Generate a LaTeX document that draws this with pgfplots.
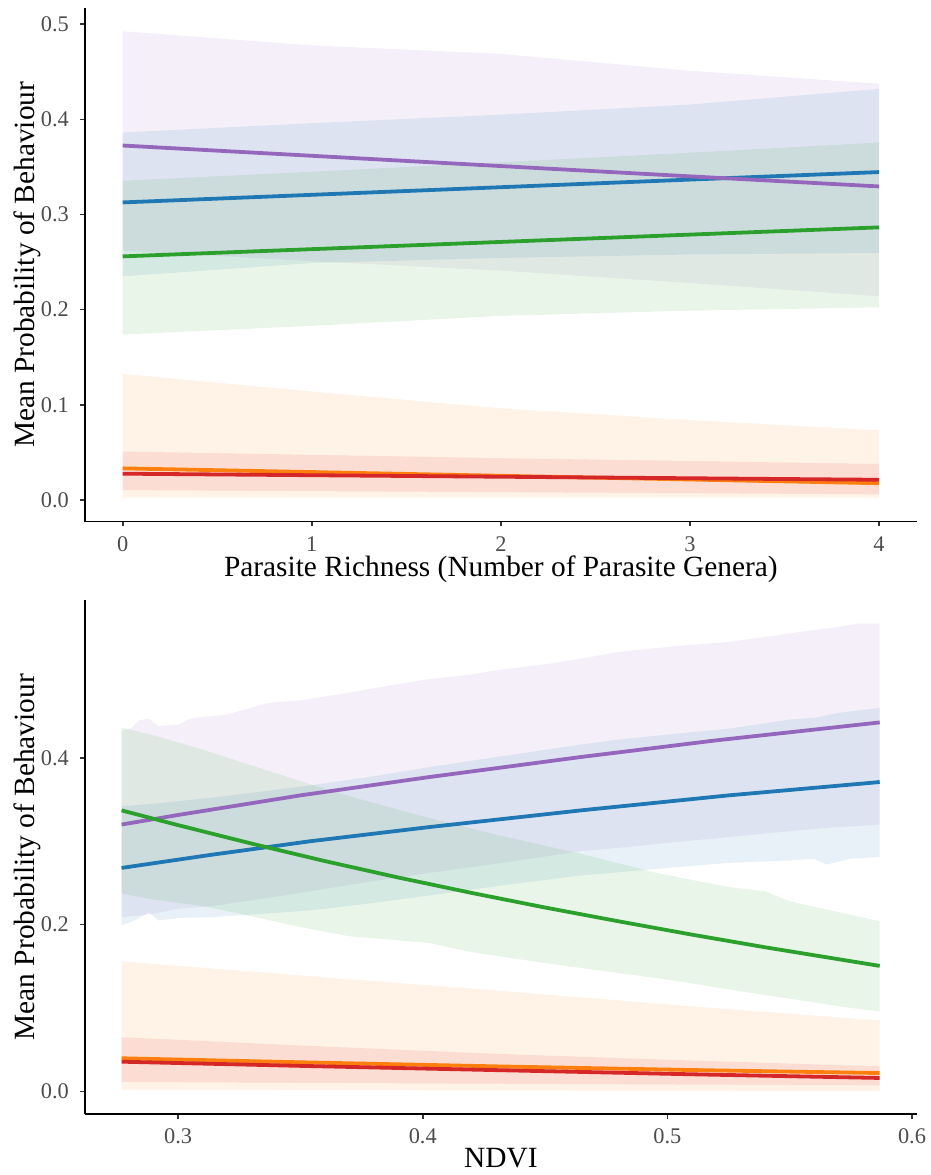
\documentclass[border=0pt]{standalone}
\usepackage{fontspec}
\setmainfont{Liberation Serif}
\usepackage{pgfplots}
\usepackage{pgfplotstable}
\usepgfplotslibrary{fillbetween}
\pgfplotsset{compat=1.18}
\definecolor{tabblue}{HTML}{1F77B4}
\definecolor{taborange}{HTML}{FF7F0E}
\definecolor{tabgreen}{HTML}{2CA02C}
\definecolor{tabred}{HTML}{D62728}
\definecolor{tabpurple}{HTML}{9467BD}

\pgfplotstableread{
x pulo puhi pu bllo blhi bl grlo grhi gr orlo orhi org relo rehi re
0 0.2620 0.4926 0.3725 0.2350 0.3862 0.3127 0.1739 0.3355 0.2560 0.0025 0.1326 0.0333 0.0105 0.0510 0.0277
1 0.2510 0.4777 0.3617 0.2490 0.3960 0.3207 0.1830 0.3450 0.2636 0.0025 0.1140 0.0294 0.0094 0.0475 0.0261
2 0.2410 0.4688 0.3509 0.2544 0.4050 0.3287 0.1935 0.3550 0.2712 0.0025 0.0964 0.0255 0.0083 0.0440 0.0245
3 0.2280 0.4510 0.3401 0.2580 0.4156 0.3367 0.1990 0.3650 0.2789 0.0025 0.0840 0.0216 0.0072 0.0410 0.0229
4 0.2141 0.4375 0.3295 0.2596 0.4320 0.3446 0.2025 0.3757 0.2865 0.0025 0.0733 0.0177 0.0060 0.0379 0.0213
}\toptable

\pgfplotsset{
  myaxis/.style={
    scale only axis, width=416.5pt,
    axis x line*=bottom, axis y line*=left,
    axis line style={line width=0.8pt, black},
    tick align=outside, major tick length=2.3pt,
    tick style={line width=0.8pt, black!80},
    /pgf/number format/assume math mode=true,
    ticklabel style={font=\fontsize{11.2}{13}\selectfont, text=black!70},
    xticklabel style={anchor=base, inner sep=0pt, yshift=-12.5pt},
    yticklabel style={anchor=east, inner sep=0pt, xshift=-5.5pt,
      /pgf/number format/.cd, fixed, fixed zerofill, precision=1},
    xticklabel style={/pgf/number format/.cd, fixed, fixed zerofill, precision=1},
    label style={font=\fontsize{14.7}{17}\selectfont, text=black},
    ylabel style={at={(axis description cs:-0.0600,0.5)}, anchor=base},
    ylabel={Mean Probability of Behaviour},
  },
  ribbon/.style={fill=#1, fill opacity=0.1, draw=none},
  est/.style={#1, line width=1.9pt},
  ribedge/.style={draw=none, forget plot},
}

\begin{document}
\begin{tikzpicture}
% ---------- Top panel ----------
\begin{axis}[myaxis, at={(42.5pt,326.35pt)}, anchor=south west, height=257.15pt,
  xmin=-0.2, xmax=4.2, ymin=-0.0227, ymax=0.517,
  xtick={0,1,2,3,4}, xticklabels={0,1,2,3,4},
  ytick={0,0.1,0.2,0.3,0.4,0.5},
  xlabel={Parasite Richness (Number of Parasite Genera)},
  xlabel style={at={(axis description cs:0.5,-0.1058)}, anchor=base},
]
\addplot[ribedge, name path=puhiA] table[x=x,y=puhi]{\toptable};
\addplot[ribedge, name path=puloA] table[x=x,y=pulo]{\toptable};
\addplot[ribbon=tabpurple] fill between[of=puhiA and puloA];
\addplot[ribedge, name path=blhiA] table[x=x,y=blhi]{\toptable};
\addplot[ribedge, name path=blloA] table[x=x,y=bllo]{\toptable};
\addplot[ribbon=tabblue] fill between[of=blhiA and blloA];
\addplot[ribedge, name path=grhiA] table[x=x,y=grhi]{\toptable};
\addplot[ribedge, name path=grloA] table[x=x,y=grlo]{\toptable};
\addplot[ribbon=tabgreen] fill between[of=grhiA and grloA];
\addplot[ribedge, name path=orhiA] table[x=x,y=orhi]{\toptable};
\addplot[ribedge, name path=orloA] table[x=x,y=orlo]{\toptable};
\addplot[ribbon=taborange] fill between[of=orhiA and orloA];
\addplot[ribedge, name path=rehiA] table[x=x,y=rehi]{\toptable};
\addplot[ribedge, name path=reloA] table[x=x,y=relo]{\toptable};
\addplot[ribbon=tabred] fill between[of=rehiA and reloA];

\addplot[est=taborange] table[x=x,y=org]{\toptable};
\addplot[est=tabred] table[x=x,y=re]{\toptable};
\addplot[est=tabblue] table[x=x,y=bl]{\toptable};
\addplot[est=tabpurple] table[x=x,y=pu]{\toptable};
\addplot[est=tabgreen] table[x=x,y=gr]{\toptable};
\end{axis}

% ---------- Bottom panel ----------
\begin{axis}[myaxis, at={(42.5pt,29.75pt)}, anchor=south west, height=257.25pt,
  xmin=0.2619, xmax=0.602, ymin=-0.0273, ymax=0.589,
  xtick={0.3,0.4,0.5,0.6},
  ytick={0,0.2,0.4},
  xlabel={NDVI},
  xlabel style={at={(axis description cs:0.5,-0.1046)}, anchor=base},
]
% purple ribbon
\addplot[ribedge, name path=puhiB] coordinates {(0.2769,0.432) (0.281,0.436) (0.284,0.445) (0.288,0.447) (0.292,0.438) (0.300,0.440) (0.305,0.447) (0.310,0.449) (0.320,0.452) (0.337,0.466) (0.350,0.469) (0.3675,0.477) (0.385,0.486) (0.4015,0.494) (0.420,0.500) (0.430,0.505) (0.452,0.513) (0.4646,0.519) (0.480,0.527) (0.503,0.534) (0.525,0.539) (0.540,0.545) (0.554,0.551) (0.570,0.557) (0.578,0.561) (0.5868,0.561)};
\addplot[ribedge, name path=puloB] coordinates {(0.2769,0.209) (0.285,0.211) (0.290,0.213) (0.300,0.219) (0.313,0.222) (0.330,0.229) (0.350,0.238) (0.375,0.250) (0.4027,0.262) (0.430,0.273) (0.4646,0.288) (0.480,0.292) (0.500,0.298) (0.525,0.305) (0.550,0.312) (0.565,0.316) (0.5868,0.320)};
\addplot[ribbon=tabpurple] fill between[of=puhiB and puloB];
% blue ribbon
\addplot[ribedge, name path=blhiB] coordinates {(0.2769,0.342) (0.290,0.345) (0.313,0.352) (0.330,0.358) (0.354,0.367) (0.380,0.378) (0.4027,0.389) (0.430,0.401) (0.4646,0.416) (0.480,0.422) (0.500,0.428) (0.525,0.435) (0.550,0.446) (0.560,0.448) (0.570,0.454) (0.5868,0.460)};
\addplot[ribedge, name path=blloB] coordinates {(0.2769,0.199) (0.283,0.206) (0.288,0.215) (0.292,0.205) (0.300,0.208) (0.313,0.209) (0.330,0.212) (0.354,0.217) (0.380,0.226) (0.4027,0.235) (0.430,0.246) (0.4646,0.259) (0.485,0.264) (0.500,0.268) (0.525,0.274) (0.550,0.277) (0.560,0.279) (0.565,0.272) (0.575,0.279) (0.5868,0.281)};
\addplot[ribbon=tabblue] fill between[of=blhiB and blloB];
% green ribbon
\addplot[ribedge, name path=grhiB] coordinates {(0.2769,0.4365) (0.290,0.427) (0.310,0.410) (0.330,0.391) (0.350,0.372) (0.375,0.350) (0.400,0.330) (0.430,0.308) (0.4646,0.285) (0.4957,0.262) (0.525,0.245) (0.540,0.240) (0.550,0.228) (0.570,0.215) (0.5868,0.204)};
\addplot[ribedge, name path=grloB] coordinates {(0.2769,0.2373) (0.290,0.230) (0.3105,0.222) (0.330,0.210) (0.350,0.197) (0.370,0.186) (0.4027,0.178) (0.420,0.167) (0.452,0.153) (0.480,0.142) (0.5026,0.133) (0.530,0.120) (0.5595,0.107) (0.575,0.100) (0.5868,0.096)};
\addplot[ribbon=tabgreen] fill between[of=grhiB and grloB];
% orange ribbon
\addplot[ribedge, name path=orhiB] coordinates {(0.2769,0.156) (0.35,0.139) (0.43,0.121) (0.51,0.102) (0.5868,0.085)};
\addplot[ribedge, name path=orloB] coordinates {(0.2769,0.0020) (0.43,0.0012) (0.5868,0.0005)};
\addplot[ribbon=taborange] fill between[of=orhiB and orloB];
% red ribbon
\addplot[ribedge, name path=rehiB] coordinates {(0.2769,0.065) (0.35,0.055) (0.43,0.045) (0.51,0.037) (0.5868,0.030)};
\addplot[ribedge, name path=reloB] coordinates {(0.2769,0.0113) (0.43,0.0092) (0.5868,0.0072)};
\addplot[ribbon=tabred] fill between[of=rehiB and reloB];

\addplot[est=taborange] coordinates {(0.2769,0.0397) (0.35,0.0349) (0.43,0.0300) (0.51,0.0256) (0.5868,0.0220)};
\addplot[est=tabred] coordinates {(0.2769,0.0356) (0.35,0.0306) (0.43,0.0255) (0.51,0.0205) (0.5868,0.0161)};
\addplot[est=tabblue] coordinates {(0.2769,0.268) (0.313,0.2835) (0.354,0.300) (0.4027,0.317) (0.4646,0.337) (0.525,0.355) (0.5868,0.371)};
\addplot[est=tabpurple] coordinates {(0.2769,0.320) (0.30,0.3315) (0.35,0.355) (0.4027,0.377) (0.4646,0.401) (0.52,0.421) (0.5868,0.4425)};
\addplot[est=tabgreen] coordinates {(0.2769,0.337) (0.30,0.3193) (0.33,0.2972) (0.36,0.2762) (0.39,0.2565) (0.42,0.2380) (0.45,0.2205) (0.48,0.2040) (0.51,0.1880) (0.54,0.1728) (0.57,0.1585) (0.5868,0.1505)};
\end{axis}
\path (0,0) rectangle (466pt,587.5pt);
\end{tikzpicture}
\end{document}
